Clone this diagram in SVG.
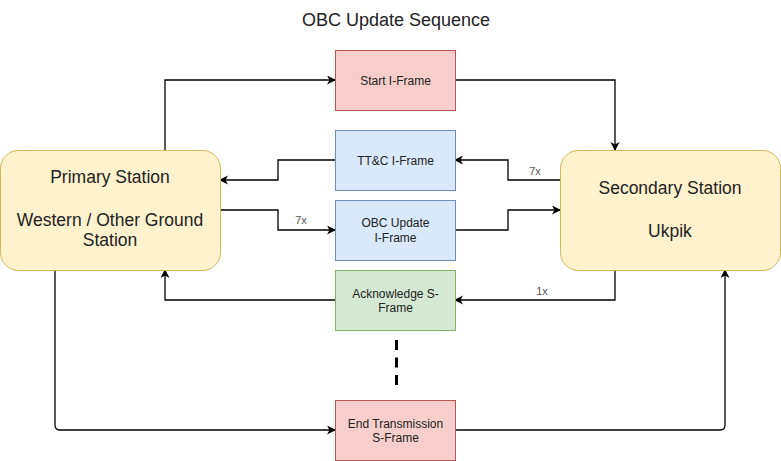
<svg xmlns="http://www.w3.org/2000/svg" width="781" height="461" viewBox="0 0 781 461">
<defs>
<marker id="arr" markerWidth="10" markerHeight="10" refX="8" refY="4.5" orient="auto" markerUnits="userSpaceOnUse">
<path d="M0,0 L9,4.5 L0,9 L2.5,4.5 Z" fill="#000"/>
</marker>
<style>
.edge{fill:none;stroke:#000;stroke-width:1.3;marker-end:url(#arr)}
.t{font-family:"Liberation Sans",Arial,sans-serif;font-size:12px;fill:#222;text-anchor:middle}
.big{font-family:"Liberation Sans",Arial,sans-serif;font-size:17.5px;fill:#222;text-anchor:middle}
.lbl{font-family:"Liberation Sans",Arial,sans-serif;font-size:11px;fill:#555;text-anchor:middle}
.red{fill:#f8cecc;stroke:#b85450}
.blue{fill:#dae8fc;stroke:#6c8ebf}
.green{fill:#d5e8d4;stroke:#82b366}
.yellow{fill:#fff2cc;stroke:#d6b656}
</style>
</defs>
<rect width="781" height="461" fill="#fff"/>
<text x="396" y="26" font-family="Liberation Sans, Arial, sans-serif" font-size="18" fill="#222" text-anchor="middle">OBC Update Sequence</text>

<g id="connectors">
<path class="edge" d="M165,150 V80 H335"/>
<path class="edge" d="M455,80 H615 V150"/>
<path class="edge" d="M560,180 H508 V160 H455"/>
<path class="edge" d="M335,160 H278 V180 H220"/>
<path class="edge" d="M220,210 H278 V230 H335"/>
<path class="edge" d="M455,230 H508 V210 H560"/>
<path class="edge" d="M615,270 V300 H455"/>
<path class="edge" d="M335,300 H165 V270"/>
<path class="edge" d="M55,270 V425 Q55,430 60,430 H335"/>
<path class="edge" d="M455,430 H720 Q725,430 725,425 V270"/>
<path d="M396.5,340 V385" fill="none" stroke="#000" stroke-width="3" stroke-dasharray="10 7.5"/>
<text class="lbl" x="535" y="175">7x</text>
<text class="lbl" x="301" y="224">7x</text>
<text class="lbl" x="542" y="295">1x</text>
</g>

<g id="primary">
<rect class="yellow" x="0.5" y="150.5" width="220" height="120" rx="18"/>
<text class="big" x="110" y="183">Primary Station</text>
<text class="big" x="110" y="226">Western / Other Ground</text>
<text class="big" x="110" y="246">Station</text>
</g>
<g id="secondary">
<rect class="yellow" x="560.5" y="150.5" width="220" height="120" rx="18"/>
<text class="big" x="670" y="194">Secondary Station</text>
<text class="big" x="670" y="237">Ukpik</text>
</g>
<g id="start">
<rect class="red" x="335.5" y="50.5" width="120" height="60"/>
<text class="t" x="395.5" y="84.5">Start I-Frame</text>
</g>
<g id="ttc">
<rect class="blue" x="335.5" y="130.5" width="120" height="60"/>
<text class="t" x="395.5" y="164.5">TT&amp;C I-Frame</text>
</g>
<g id="obc">
<rect class="blue" x="335.5" y="200.5" width="120" height="60"/>
<text class="t" x="395.5" y="227">OBC Update</text>
<text class="t" x="395.5" y="242">I-Frame</text>
</g>
<g id="ack">
<rect class="green" x="335.5" y="270.5" width="120" height="60"/>
<text class="t" x="395.5" y="298">Acknowledge S-</text>
<text class="t" x="395.5" y="312">Frame</text>
</g>
<g id="end">
<rect class="red" x="335.5" y="400.5" width="120" height="60"/>
<text class="t" x="395.5" y="428">End Transmission</text>
<text class="t" x="395.5" y="442">S-Frame</text>
</g>
</svg>
